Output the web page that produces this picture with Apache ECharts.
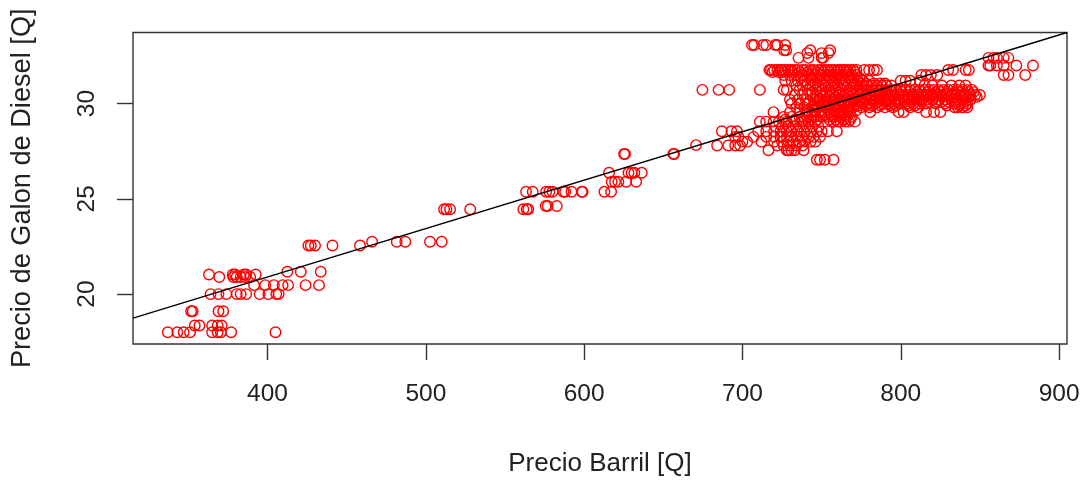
<!DOCTYPE html>
<html>
<head>
<meta charset="utf-8">
<script src="https://cdn.jsdelivr.net/npm/echarts@6/dist/echarts.min.js"></script>
<style>
  html, body { margin: 0; padding: 0; background: #fff; }
  #chart { width: 1086px; height: 483px; }
</style>
</head>
<body>
<div id="chart"></div>
<script>
// values: diesel prices come in levels, so one x list per level
const xTicks = [400, 500, 600, 700, 800, 900];
const yTicks = [20, 25, 30];
const fitLine = [[315, 18.74], [905, 33.73]];

const lowLevels = [18.0, 18.35, 19.1, 20.0, 20.47, 20.9, 21.03, 21.17, 22.55, 22.75];
const lowX = [
  [337, 343, 347, 351, 365, 368.5, 370.5, 377, 405],
  [354, 357, 365, 368.5, 371],
  [351.7, 352.7, 369, 372],
  [364, 369, 374, 380.5, 383, 386.5, 395, 400.5, 405.5, 407],
  [391.5, 398.5, 404, 409.5, 413, 424, 432.5],
  [369.5, 378.4, 380.5, 383, 385.8, 389],
  [363, 378, 379.5, 385, 386.5, 392.5],
  [412.5, 421, 433.6],
  [425.8, 427.3, 430, 441, 458.4],
  [466, 481.6, 487, 502.6, 510]
];

const midLevels = [24.45, 24.62, 25.37, 25.9, 26.37, 27.35, 27.82];
const midX = [
  [511.5, 513, 515.3, 528, 561.6, 563.7, 564.7],
  [575.7, 577, 582.7],
  [563.3, 567.5, 576, 578, 580, 586.9, 588, 592, 598.5, 599, 612.8, 617],
  [617.4, 619.5, 621.6, 626.5, 632.8],
  [615.7, 628, 630, 631.7, 636.4],
  [625.2, 625.8, 656.3, 656.8],
  [670.7]
];

const highLevels = [33.07, 32.8, 32.65, 32.4, 32.0, 31.76, 31.65, 31.5, 31.35, 31.2, 31.05, 30.95, 30.72, 30.6, 30.45, 30.35, 30.2, 30.1, 30.0, 29.9, 29.8, 29.65, 29.55, 29.4, 29.3, 29.15, 29.05, 28.8, 28.55, 28.25, 28.0, 27.8, 27.55, 27.05];
const highX = [
  [706, 707.4, 713, 715, 720.7, 722, 727],
  [726.3, 727.6, 742.8, 755.4],
  [754.4, 741, 750],
  [735.4, 741.7, 751, 750, 855.4, 858.6, 860.7, 865, 868],
  [855.4, 856.5, 860.7, 865, 873, 883.5],
  [717, 718, 720, 722, 724, 725, 727, 729, 731, 733, 735, 738, 740, 743, 745, 748, 750, 752, 754, 756, 758, 760, 762, 764, 766, 768, 770, 772, 777, 780, 783, 785, 830, 833, 841, 843],
  [719, 723, 726, 731, 736, 741, 744, 747, 751, 755, 759, 761, 765, 767, 771],
  [726, 730, 734, 738, 742, 746, 750, 754, 757, 760, 763, 766, 769, 772, 813, 816, 819, 823, 865, 868, 878.6],
  [737, 743, 748, 752, 755, 759, 762, 767, 770, 774],
  [727, 731, 735, 739, 744, 749, 753, 757, 761, 765, 769, 773, 776, 780, 800, 803, 806, 812],
  [741, 746, 751, 758, 763, 771, 775, 778, 783, 787, 790],
  [734, 738, 743, 748, 752, 756, 760, 764, 768, 772, 776, 779, 782, 785, 788, 791, 794, 815, 820, 826, 832, 837, 841],
  [674.7, 684.9, 691.6, 711, 726, 728, 736, 741, 746, 750, 755, 759, 763, 768, 772, 776, 779, 782, 785, 788, 791, 794, 797, 800, 803, 806, 809, 812, 815, 818, 821, 824, 827, 830, 833, 836, 839, 842, 845],
  [744, 749, 753, 757, 761, 766, 770, 775, 780, 783, 786, 790, 795, 798, 801, 805, 810, 813, 817, 822, 825, 829, 834, 838, 843, 846],
  [733, 738, 743, 747, 752, 756, 761, 765, 770, 774, 778, 781, 784, 787, 790, 793, 796, 799, 802, 805, 808, 811, 814, 817, 820, 823, 826, 829, 832, 835, 838, 841, 844, 847, 850],
  [747, 751, 755, 759, 764, 769, 773, 777, 782, 786, 789, 792, 795, 801, 804, 807, 810, 815, 819, 822, 827, 831, 834, 839, 843, 848],
  [730, 735, 740, 745, 749, 754, 758, 763, 767, 771, 775, 778, 781, 784, 787, 790, 793, 796, 799, 802, 805, 808, 812, 816, 820, 824, 828, 832, 836, 840, 844],
  [742, 748, 752, 757, 762, 765, 770, 774, 777, 783, 786, 791, 794, 798, 803, 807, 813, 818, 823, 826, 830, 835, 841],
  [731, 736, 741, 746, 751, 755, 760, 764, 768, 772, 776, 780, 784, 788, 792, 796, 800, 804, 808, 812, 816, 822, 828, 834, 838, 842],
  [745, 750, 753, 758, 761, 767, 771, 773, 778, 782, 787, 793, 797, 805, 809, 829, 837, 841],
  [734, 739, 744, 748, 753, 757, 762, 766, 770, 775, 780, 785, 790, 795, 806, 811, 834, 836, 839, 842],
  [741, 745, 750, 754, 759, 763, 767, 772],
  [719.6, 730, 736, 741, 746, 751, 755, 760, 764, 768, 780.7, 798.6, 801.7, 816, 821, 825],
  [740, 744, 749, 752, 756, 761, 765],
  [726, 731, 736, 741, 745, 750, 754, 758, 762, 766, 769],
  [727, 733, 738, 743, 747, 755, 759, 764, 768],
  [711, 715, 719.6, 723, 728, 733, 738, 742, 746, 757.5, 760, 762, 765, 767, 771],
  [721, 725, 729, 732, 736, 740, 744, 748],
  [687, 693, 696.5, 710, 715, 720, 724, 728, 731, 735, 739, 743, 747, 750, 754, 759.6],
  [695.4, 697.5, 707, 715, 720, 724, 728, 731, 735, 738, 742, 745, 749],
  [700, 703, 712, 720, 725, 729, 732, 736, 739, 743, 746],
  [684, 691, 695.4, 698.5, 722, 726, 730, 734, 738],
  [716.4, 728, 729, 731, 733, 738.6],
  [747, 749, 752, 757.5]
];

function rowsToPoints(levels, xLists) {
  return levels.flatMap((y, i) => xLists[i].map((x) => [x, y]));
}
const points = [
  ...rowsToPoints(lowLevels, lowX),
  ...rowsToPoints(midLevels, midX),
  ...rowsToPoints(highLevels, highX)
];

const FONT = '"Liberation Sans", Arial, sans-serif';
const TEXT = '#222';
const chart = echarts.init(document.getElementById('chart'), null, { renderer: 'canvas' });
chart.setOption({
  animation: false,
  backgroundColor: '#fff',
  grid: {
    left: 133, top: 32.5, right: 19, bottom: 139,
    outerBoundsMode: 'none',
    show: true, borderColor: '#333', borderWidth: 1.4, backgroundColor: 'transparent'
  },
  xAxis: {
    type: 'value', min: 315, max: 905,
    name: 'Precio Barril [Q]', nameLocation: 'middle', nameGap: 107,
    nameTextStyle: { fontFamily: FONT, fontSize: 26, color: TEXT },
    axisLine: { show: false },
    splitLine: { show: false },
    axisTick: { show: true, length: 16, customValues: xTicks, lineStyle: { color: '#333', width: 1.4 } },
    axisLabel: { customValues: xTicks, margin: 38, fontFamily: FONT, fontSize: 24.5, color: TEXT, hideOverlap: false }
  },
  yAxis: {
    type: 'value', min: 17.38, max: 33.73,
    name: 'Precio de Galon de Diesel [Q]', nameLocation: 'middle', nameGap: 97, nameRotate: 90,
    nameTextStyle: { fontFamily: FONT, fontSize: 27.2, color: TEXT },
    axisLine: { show: false },
    splitLine: { show: false },
    axisTick: { show: true, length: 16, customValues: yTicks, lineStyle: { color: '#333', width: 1.4 } },
    axisLabel: { customValues: yTicks, rotate: 90, margin: 46, fontFamily: FONT, fontSize: 24.5, color: TEXT, verticalAlign: 'middle', align: 'center' }
  },
  series: [
    {
      name: 'precios', type: 'scatter', data: points, symbol: 'circle', symbolSize: 10.5,
      itemStyle: { color: 'rgba(255,0,0,0)', borderColor: '#ff0000', borderWidth: 1.4, opacity: 1 },
      silent: true, z: 2
    },
    {
      name: 'ajuste', type: 'line', data: fitLine, symbol: 'none',
      lineStyle: { color: '#000', width: 1.4 }, silent: true, z: 3
    }
  ]
});
</script>
</body>
</html>
